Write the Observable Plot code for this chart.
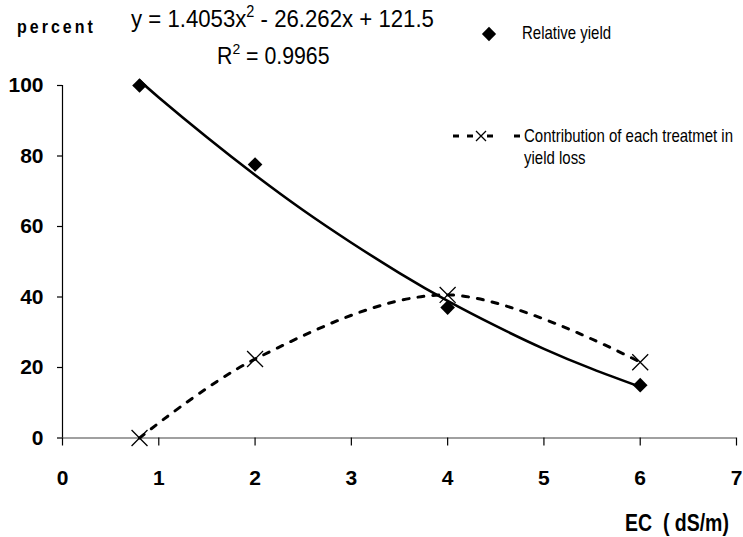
<!DOCTYPE html>
<html><head><meta charset="utf-8">
<script src="https://cdn.jsdelivr.net/npm/d3@7"></script>
<script src="https://cdn.jsdelivr.net/npm/@observablehq/plot@0.6"></script>
<style>
html,body{margin:0;padding:0;background:#fff;}
#chart{width:743px;height:537px;}
#chart svg text{white-space:pre;}
</style></head><body><div id="chart"></div>
<script>
// ---- data ----
const ec = [0.8, 2, 4, 6];
const relativeYield = [100, 77.6, 37, 15];
const contribution = [0, 22.4, 40.6, 21.5];
// polynomial trendline of relative yield
const trendEC = [0.8, 1, 1.5, 2, 2.5, 3, 3.5, 4, 4.5, 5, 5.5, 6];
const trendYield = [101.4, 96.6, 85.3, 74.6, 64.6, 55.4, 46.8, 38.9, 31.8, 25.3, 19.6, 14.5];
const xTicks = [0, 1, 2, 3, 4, 5, 6, 7];
const yTicks = [0, 20, 40, 60, 80, 100];
const seriesNames = ["Relative yield", "Contribution of each treatmet in", "yield loss"];
const eqParts = ["y = 1.4053x", "2", " - 26.262x + 121.5"];
const r2Parts = ["R", "2", " = 0.9965"];
const yTitle = "percent";
const xTitle = "EC  ( dS/m)";

const points = ec.map((x, i) => ({x, ry: relativeYield[i], c: contribution[i]}));
const trend = trendEC.map((x, i) => ({x, y: trendYield[i]}));

const FONT = "'Liberation Sans', Arial, Helvetica, sans-serif";

const svg = Plot.plot({
  width: 743,
  height: 537,
  marginLeft: 62,
  marginRight: 7,
  marginTop: 85,
  marginBottom: 99.5,
  style: {fontFamily: FONT, background: "#fff", color: "black", overflow: "visible"},
  x: {domain: [0, 7]},
  y: {domain: [0, 100]},
  marks: [
    Plot.ruleY([0], {stroke: "#808080", strokeWidth: 1.5}),
    Plot.ruleX([0], {y1: 0, y2: 100, stroke: "black", strokeWidth: 1.2}),
    Plot.axisX(xTicks, {tickSize: 8, tickPadding: 24, fontSize: 21, fontWeight: "bold", label: null, strokeWidth: 1.2}),
    Plot.axisY(yTicks, {tickSize: 5, tickPadding: 14, fontSize: 21, fontWeight: "bold", label: null, strokeWidth: 1.2}),
    Plot.line(trend, {x: "x", y: "y", curve: "natural", stroke: "black", strokeWidth: 2.6}),
    Plot.line(points, {x: "x", y: "c", curve: "catmull-rom", stroke: "black", strokeWidth: 3, strokeDasharray: "6,9"}),
    Plot.dot(points, {x: "x", y: "ry", symbol: "diamond2", fill: "black", stroke: "none", r: 6.6}),
    Plot.dot(points, {x: "x", y: "c", symbol: "times", stroke: "black", strokeWidth: 1.3, r: 7.3})
  ]
});

const s = d3.select(svg);
const g = s.append("g").attr("font-family", FONT).attr("fill", "black").attr("text-anchor", "start");

function supText(x, y, parts, size, supSize) {
  const t = g.append("text").attr("transform", `translate(${x},${y}) scale(1,1.1)`).attr("font-size", size);
  t.append("tspan").text(parts[0]);
  t.append("tspan").attr("font-size", supSize).attr("dy", -size * 0.42).text(parts[1]);
  t.append("tspan").attr("dy", size * 0.42).text(parts[2]);
}
supText(131, 27, eqParts, 22.2, 14.5);
supText(217, 64, r2Parts, 21.3, 14);

g.append("text").attr("transform", "translate(17,33) scale(1,1.15)")
  .attr("font-size", 16).attr("font-weight", "bold").attr("letter-spacing", 3).text(yTitle);

g.append("text").attr("transform", "translate(625,531) scale(1,1.2)")
  .attr("font-size", 19.5).attr("font-weight", "bold").text(xTitle);

// legend
g.append("path").attr("transform", "translate(489,34)")
  .attr("d", d3.symbol(d3.symbolDiamond2, 130)());
g.append("text").attr("transform", "translate(522,39) scale(1,1.2)").attr("font-size", 15).text(seriesNames[0]);

[[453, 459], [467, 473], [487, 493], [514, 520]].forEach(([a, b]) =>
  g.append("line").attr("x1", a).attr("x2", b).attr("y1", 136).attr("y2", 136)
    .attr("stroke", "black").attr("stroke-width", 3));
g.append("path").attr("transform", "translate(481,136)")
  .attr("d", "M-5,-5L5,5M-5,5L5,-5").attr("stroke", "black").attr("stroke-width", 1.3).attr("fill", "none");
g.append("text").attr("transform", "translate(524,142) scale(1,1.2)").attr("font-size", 15).text(seriesNames[1]);
g.append("text").attr("transform", "translate(524,164) scale(1,1.2)").attr("font-size", 15).text(seriesNames[2]);

document.getElementById("chart").appendChild(svg);
</script>
</body></html>
